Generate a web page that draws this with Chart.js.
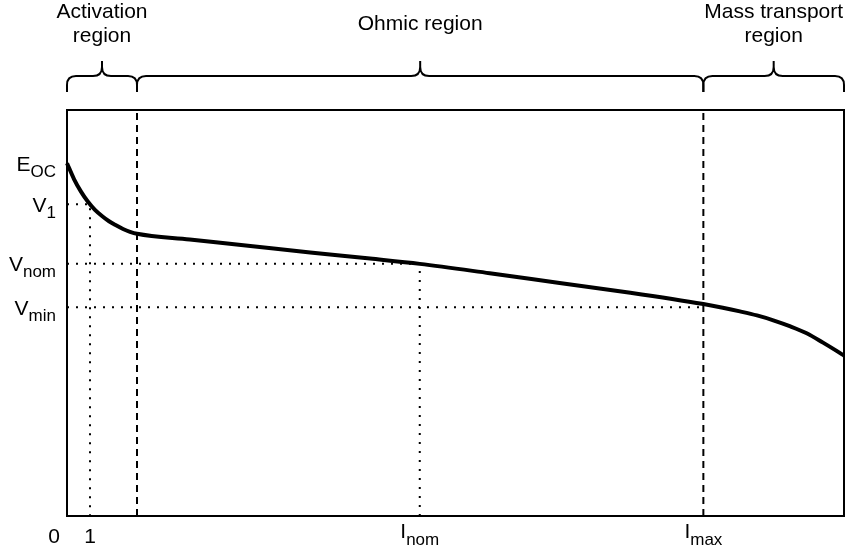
<!DOCTYPE html>
<html>
<head>
<meta charset="utf-8">
<script src="https://cdn.jsdelivr.net/npm/chart.js@4"></script>
<style>
  html, body { margin: 0; padding: 0; background: #fff; }
  #wrap { width: 847px; height: 553px; }
</style>
</head>
<body>
<div id="wrap"><canvas id="polChart" width="847" height="553"></canvas></div>
<script>
// polarization curve (current 0..100, voltage 0..100, arbitrary units)
const currents = [0, 0.90, 1.80, 2.70, 3.60, 4.50, 5.41, 6.31, 7.21, 8.11, 9.01, 15.8, 23.6, 31.3, 39.0, 45.4, 54.4, 63.4, 72.5, 81.9, 84.4, 86.6, 88.8, 90.9, 93.1, 95.2, 97.3, 99.1, 100];
const voltages = [86.9, 83.0, 79.9, 77.4, 75.4, 73.9, 72.6, 71.6, 70.7, 70.0, 69.5, 68.1, 66.5, 64.9, 63.4, 62.1, 59.8, 57.4, 55.0, 52.2, 51.3, 50.4, 49.4, 48.2, 46.7, 45.0, 42.7, 40.6, 39.5];

// tick marks on the axes (main letter + subscript)
const xTickValues = [0, 2.96, 45.4, 81.9];
const xTickMain = ['0', '1', 'I', 'I'];
const xTickSub = ['', '', 'nom', 'max'];
const yTickValues = [86.9, 76.8, 62.1, 51.4];
const yTickMain = ['E', 'V', 'V', 'V'];
const yTickSub = ['OC', '1', 'nom', 'min'];

// regions along the current axis
const regionBounds = [0, 9.01, 81.9, 100];
const regionNames = [['Activation', 'region'], ['Ohmic region'], ['Mass transport', 'region']];

const FONT = "'Liberation Sans', Arial, sans-serif";

// guide lines built from the values above
let dotted = (pts) => ({
  data: pts, borderColor: '#000', borderWidth: 2, borderDash: [2, 7],
  pointRadius: 0, tension: 0, fill: false
});
let dashed = (x) => ({
  data: [{ x: x, y: 0 }, { x: x, y: 100 }], borderColor: '#000', borderWidth: 2,
  borderDash: [7, 5], pointRadius: 0, tension: 0, fill: false
});

let curve = {
  data: currents.map((c, i) => ({ x: c, y: voltages[i] })),
  borderColor: '#000', borderWidth: 4, pointRadius: 0,
  cubicInterpolationMode: 'monotone', fill: false, clip: false
};

let datasets = [
  curve,
  dashed(regionBounds[1]),
  dashed(regionBounds[2]),
  dotted([{ x: 0, y: yTickValues[1] }, { x: xTickValues[1], y: yTickValues[1] }, { x: xTickValues[1], y: 0 }]),
  dotted([{ x: 0, y: yTickValues[2] }, { x: xTickValues[2], y: yTickValues[2] }, { x: xTickValues[2], y: 0 }]),
  dotted([{ x: 0, y: yTickValues[3] }, { x: xTickValues[3], y: yTickValues[3] }])
];

// draws a label with an optional subscript
function subLabel(ctx, main, sub, x, y, align, mainSize, subSize, drop) {
  ctx.font = mainSize + 'px ' + FONT;
  let wm = ctx.measureText(main).width;
  ctx.font = subSize + 'px ' + FONT;
  let ws = sub ? ctx.measureText(sub).width : 0;
  let total = wm + ws;
  let left = align === 'right' ? x - total : align === 'center' ? x - total / 2 : x;
  ctx.textAlign = 'left';
  ctx.textBaseline = 'alphabetic';
  ctx.font = mainSize + 'px ' + FONT;
  ctx.fillText(main, left, y);
  if (sub) {
    ctx.font = subSize + 'px ' + FONT;
    ctx.fillText(sub, left + wm, y + drop);
  }
}

// curly brace over [x0, x1], tip in the middle
function brace(ctx, x0, x1, yEnd, yBar, yTip) {
  let xm = (x0 + x1) / 2;
  let r = 9;
  ctx.beginPath();
  ctx.moveTo(x0, yEnd);
  ctx.lineTo(x0, yBar + r);
  ctx.quadraticCurveTo(x0, yBar, x0 + r, yBar);
  ctx.lineTo(xm - r, yBar);
  ctx.quadraticCurveTo(xm, yBar, xm, yBar - r);
  ctx.lineTo(xm, yTip);
  ctx.moveTo(xm, yBar - r);
  ctx.quadraticCurveTo(xm, yBar, xm + r, yBar);
  ctx.lineTo(x1 - r, yBar);
  ctx.quadraticCurveTo(x1, yBar, x1, yBar + r);
  ctx.lineTo(x1, yEnd);
  ctx.stroke();
}

const decorations = {
  id: 'decorations',
  afterDraw(chart) {
    let ctx = chart.ctx;
    let area = chart.chartArea;
    let xs = chart.scales.x;
    let ys = chart.scales.y;
    ctx.save();
    ctx.strokeStyle = '#000';
    ctx.fillStyle = '#000';

    // frame
    ctx.lineWidth = 2;
    ctx.strokeRect(area.left, area.top, area.right - area.left, area.bottom - area.top);

    // x tick labels
    xTickValues.forEach((v, i) => {
      let px = xs.getPixelForValue(v);
      if (xTickSub[i]) {
        subLabel(ctx, xTickMain[i], xTickSub[i], px, area.bottom + 22, 'center', 21, 17, 7);
      } else if (v === 0) {
        subLabel(ctx, xTickMain[i], '', px - 7, area.bottom + 27, 'right', 21, 17, 0);
      } else {
        subLabel(ctx, xTickMain[i], '', px, area.bottom + 27, 'center', 21, 17, 0);
      }
    });

    // y tick labels
    yTickValues.forEach((v, i) => {
      let py = ys.getPixelForValue(v);
      subLabel(ctx, yTickMain[i], yTickSub[i], 56, py + 7.5, 'right', 21, 17, 6);
    });

    // braces and region names
    ctx.lineWidth = 2;
    for (let i = 0; i < regionNames.length; i++) {
      let x0 = xs.getPixelForValue(regionBounds[i]);
      let x1 = xs.getPixelForValue(regionBounds[i + 1]);
      brace(ctx, x0, x1, 92, 76, 61);
      let lines = regionNames[i];
      let xm = (x0 + x1) / 2;
      ctx.font = '21px ' + FONT;
      ctx.textAlign = 'center';
      ctx.textBaseline = 'alphabetic';
      if (lines.length === 1) {
        ctx.fillText(lines[0], xm, 30);
      } else {
        ctx.fillText(lines[0], xm, 18);
        ctx.fillText(lines[1], xm, 42);
      }
    }
    ctx.restore();
  }
};

new Chart(document.getElementById('polChart'), {
  type: 'line',
  data: { datasets: datasets },
  options: {
    responsive: false,
    animation: false,
    layout: { padding: { left: 67, right: 3, top: 110, bottom: 37 } },
    scales: {
      x: { type: 'linear', min: 0, max: 100, display: false },
      y: { type: 'linear', min: 0, max: 100, display: false }
    },
    plugins: {
      legend: { display: false },
      tooltip: { enabled: false }
    }
  },
  plugins: [decorations]
});
</script>
</body>
</html>
